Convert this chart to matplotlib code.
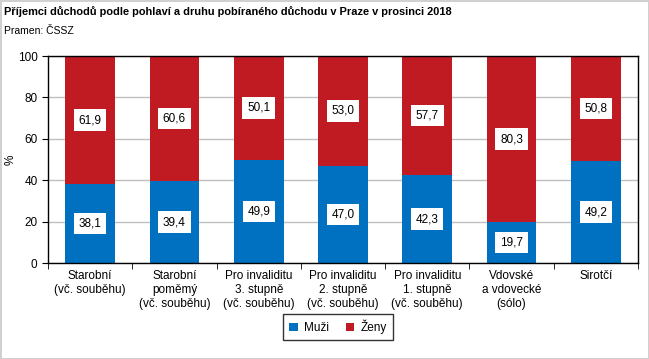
import matplotlib.pyplot as plt
import numpy as np

plt.rcParams['font.family'] = ['Liberation Sans', 'DejaVu Sans']

categories = ['Starobní\n(vč. souběhu)', 'Starobní\npoměmý\n(vč. souběhu)',
              'Pro invaliditu\n3. stupně\n(vč. souběhu)', 'Pro invaliditu\n2. stupně\n(vč. souběhu)',
              'Pro invaliditu\n1. stupně\n(vč. souběhu)', 'Vdovské\na vdovecké\n(sólo)', 'Sirotčí']
muzi = [38.1, 39.4, 49.9, 47.0, 42.3, 19.7, 49.2]
zeny = [61.9, 60.6, 50.1, 53.0, 57.7, 80.3, 50.8]

blue = '#0070C0'
red = '#C01A22'

fig = plt.figure(figsize=(6.49, 3.59), dpi=100)
fig.patch.set_edgecolor('#D0D0D0')
fig.patch.set_linewidth(2)
ax = fig.add_axes([48/649, 1 - 263/359, 590/649, 207/359])

x = np.arange(len(categories))
w = 0.59
ax.bar(x, muzi, w, color=blue, label='Muži', zorder=2)
ax.bar(x, zeny, w, bottom=muzi, color=red, label='Ženy', zorder=2)

# popisky hodnot v bílých rámečcích
box = dict(boxstyle='square,pad=0.4', fc='white', ec='none')
for i in range(len(categories)):
    ax.text(x[i], muzi[i] / 2, f'{muzi[i]:.1f}'.replace('.', ','), ha='center', va='center',
            fontsize=8.5, bbox=box, zorder=3)
    ax.text(x[i], muzi[i] + zeny[i] / 2, f'{zeny[i]:.1f}'.replace('.', ','), ha='center', va='center',
            fontsize=8.5, bbox=box, zorder=3)

ax.set_xlim(-0.5, len(categories) - 0.5)
ax.set_ylim(0, 100)
ax.set_yticks(range(0, 101, 20))
ax.yaxis.grid(True, color='#C0C0C0', linewidth=1, zorder=0)
ax.set_xticks(x)
ax.set_xticklabels(categories, fontsize=8.5, va='top', linespacing=1.25)
ax.tick_params(axis='x', length=0, pad=5)
ax.set_xticks(np.arange(-0.5, len(categories), 1), minor=True)
ax.tick_params(axis='x', which='minor', length=4, direction='out')
ax.tick_params(axis='y', labelsize=8.5, length=4, direction='out')
for s in ax.spines.values():
    s.set_linewidth(1)
ax.set_ylabel('%', fontsize=8.5, va='center')
ax.yaxis.set_label_coords(-37/590, 0.5)

fig.text(4/649, 1 - 12/359, 'Příjemci důchodů podle pohlaví a druhu pobíraného důchodu v Praze v prosinci 2018',
         fontsize=7.9, fontweight='bold', va='center', ha='left')
fig.text(4/649, 1 - 31/359, 'Pramen: ČSSZ', fontsize=7.5, va='center', ha='left')

leg = fig.legend(loc='center', bbox_to_anchor=(338/649, 1 - 327/359), ncol=2, fontsize=8.5,
                 frameon=True, fancybox=False, edgecolor='black', handlelength=0.7, handleheight=0.7,
                 columnspacing=1.5, handletextpad=0.5, borderpad=0.5)
leg.get_frame().set_linewidth(1)

plt.savefig('out.png', dpi=100)
